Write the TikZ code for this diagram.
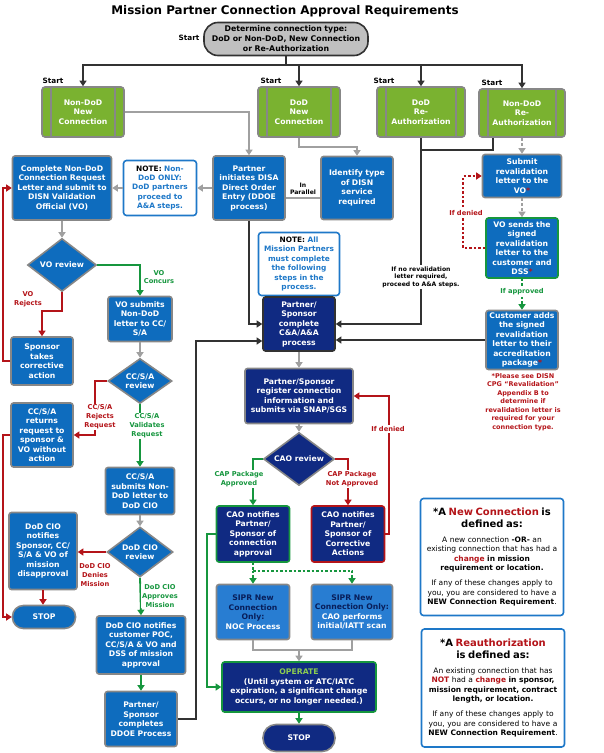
\documentclass[tikz,border=0pt]{standalone}
\usepackage{fontspec}
\setmainfont{DejaVu Sans}
\usetikzlibrary{arrows.meta,shapes.geometric,calc}
\definecolor{gfill}{RGB}{122,178,48}
\definecolor{bordgray}{RGB}{135,135,135}
\definecolor{bfill}{RGB}{14,108,190}
\definecolor{nfill}{RGB}{16,42,130}
\definecolor{ndraw}{RGB}{50,50,50}
\definecolor{sfill}{RGB}{40,125,210}
\definecolor{stext}{RGB}{8,30,90}
\definecolor{lred}{RGB}{180,20,25}
\definecolor{lgreen}{RGB}{22,150,62}
\definecolor{lgray}{RGB}{160,160,160}
\definecolor{ldark}{RGB}{50,50,50}
\definecolor{nblue}{RGB}{30,120,200}
\definecolor{opgreen}{RGB}{140,205,80}
\definecolor{ovalgray}{RGB}{192,192,192}
\newcommand\myfs[2]{\fontsize{#1}{#2}\selectfont}
\begin{document}
\begin{tikzpicture}[x=1pt,y=-1pt,
 arr/.style={-{Triangle[length=5.5pt,width=7pt]}},
 cgray/.style={draw=lgray,line width=2.2pt},
 cdark/.style={draw=ldark,line width=2.2pt},
 cred/.style={draw=lred,line width=1.8pt},
 cgreen/.style={draw=lgreen,line width=1.8pt},
 dots/.style={line width=1.8pt,dash pattern=on 2.5pt off 2pt},
 box/.style={draw=bordgray,line width=1.6pt,rounded corners=2.5pt,align=center,inner sep=0pt,text=white,font=\myfs{7.7}{9.5}\bfseries},
 sz/.style 2 args={minimum width=#1pt,text width=#1pt,minimum height=#2pt},
 dsz/.style 2 args={minimum width=#1pt,minimum height=#2pt},
 bbox/.style={box,fill=bfill},
 nbox/.style={box,fill=nfill,draw=ndraw},
 sbox/.style={box,fill=sfill},
 gbox/.style={box,fill=gfill,rounded corners=3pt,
   path picture={\draw[bordgray,line width=1.4pt]
     ([xshift=9pt]path picture bounding box.north west) -- ([xshift=9pt]path picture bounding box.south west)
     ([xshift=-9pt]path picture bounding box.north east) -- ([xshift=-9pt]path picture bounding box.south east);}},
 notebox/.style={box,fill=white,draw=nblue,rounded corners=3pt,text=nblue,font=\myfs{7.4}{9.4}\bfseries},
 defbox/.style={box,fill=white,draw=nblue,rounded corners=3pt,text=black,font=\myfs{7.5}{9.6}},
 diam/.style={diamond,draw=bordgray,line width=1.6pt,inner sep=0pt,aspect=1.4,align=center,text=white,font=\myfs{7.7}{9.5}\bfseries},
 bdiam/.style={diam,fill=bfill},
 ndiam/.style={diam,fill=nfill},
 oval/.style={rounded corners=11pt},
 startlab/.style={font=\myfs{7.3}{8}\bfseries,text=black},
 lab/.style={font=\myfs{6.7}{8.8}\bfseries,align=center,fill=white,inner sep=1pt},
 rlab/.style={lab,text=lred},
 glab/.style={lab,text=lgreen},
 tinylab/.style={font=\myfs{6.1}{7.6}\bfseries,align=center,inner sep=1pt,text=black}
]
\useasboundingbox (0,0) rectangle (604,753);

% title
\node[font=\myfs{11.9}{13}\bfseries] (title) at (285,11) {Mission Partner Connection Approval Requirements};

% start
\node[box,fill=ovalgray,draw=ldark,rounded corners=14pt,text=black,sz={164}{33},font=\myfs{7.8}{10}\bfseries] (start) at (286,39)
 {Determine connection type:\\DoD or Non-DoD, New Connection\\or Re-Authorization};
\node[startlab,anchor=east] (s0) at (203,38) {Start};

% green type boxes
\node[gbox,sz={82}{50}] (ndn) at (83,112) {Non-DoD\\New\\Connection};
\node[gbox,sz={82}{50}] (dn) at (299,112) {DoD\\New\\Connection};
\node[gbox,sz={88}{50}] (dra) at (421,112) {DoD\\Re-\\Authorization};
\node[gbox,sz={86}{48}] (ndra) at (522,113) {Non-DoD\\Re-\\Authorization};
\node[startlab] (s1) at (53,81) {Start};
\node[startlab] (s2) at (271,81) {Start};
\node[startlab] (s3) at (384,81) {Start};
\node[startlab] (s4) at (492,83) {Start};

% row 2
\node[bbox,sz={99}{64}] (cnd) at (62,188) {Complete Non-DoD\\Connection Request\\Letter and submit to\\DISN Validation\\Official (VO)};
\node[notebox,sz={73}{55}] (note1) at (160,188) {\textcolor{black}{NOTE:} Non-\\DoD ONLY:\\DoD partners\\proceed to\\A\&A steps.};
\node[bbox,sz={72}{64}] (pdd) at (249,188) {Partner\\initiates DISA\\Direct Order\\Entry (DDOE\\process)};
\node[bbox,sz={72}{63}] (idt) at (357,188) {Identify type\\of DISN\\service\\required};
\node[tinylab] (inpar) at (303,189) {In\\Parallel};

% middle column
\node[notebox,sz={81}{63}] (note2) at (299,264) {\textcolor{black}{NOTE:} All\\Mission Partners\\must complete\\the following\\steps in the\\process.};
\node[nbox,sz={72}{54}] (ca) at (299,324) {Partner/\\Sponsor\\complete\\C\&A/A\&A\\process};
\node[nbox,draw=bordgray,sz={108}{55}] (reg) at (299,396) {Partner/Sponsor\\register connection\\information and\\submits via SNAP/SGS};
\node[ndiam,dsz={71}{53}] (cao) at (299,459) {CAO review};
\node[nbox,draw=lgreen,sz={73}{56}] (apr) at (253,534) {CAO notifies\\Partner/\\Sponsor of\\connection\\approval};
\node[nbox,draw=lred,sz={73}{56}] (cor) at (348,534) {CAO notifies\\Partner/\\Sponsor of\\Corrective\\Actions};
\node[sbox,sz={73}{55}] (sipr1) at (253,612) {\textcolor{stext}{SIPR New\\Connection\\Only:}\\NOC Process};
\node[sbox,sz={81}{55}] (sipr2) at (352,612) {\textcolor{stext}{SIPR New\\Connection Only:}\\CAO performs\\initial/IATT scan};
\node[nbox,draw=lgreen,sz={154}{50}] (op) at (299,687) {\textcolor{opgreen}{OPERATE}\\(Until system or ATC/IATC\\expiration, a significant change\\occurs, or no longer needed.)};
\node[nbox,draw=bordgray,oval,rounded corners=13pt,sz={72}{27}] (stop2) at (299,738) {STOP};

% left column
\node[bdiam,dsz={69}{53}] (vor) at (62,265) {VO review};
\node[bbox,sz={64}{45}] (vos) at (140,319) {VO submits\\Non-DoD\\letter to CC/\\S/A};
\node[bbox,sz={62}{48}] (stc) at (42,361) {Sponsor\\takes\\corrective\\action};
\node[bdiam,dsz={64}{45}] (ccr) at (140,381) {CC/S/A\\review};
\node[bbox,sz={62}{64}] (ret) at (42,435) {CC/S/A\\returns\\request to\\sponsor \&\\VO without\\action};
\node[bbox,sz={69}{47}] (csd) at (140,491) {CC/S/A\\submits Non-\\DoD letter to\\DoD CIO};
\node[bdiam,dsz={66}{50}] (cior) at (140,552) {DoD CIO\\review};
\node[bbox,sz={68}{77}] (dis) at (43,551) {DoD CIO\\notifies\\Sponsor, CC/\\S/A \& VO of\\mission\\disapproval};
\node[bbox,oval,sz={63}{23}] (stop1) at (44,617) {STOP};
\node[bbox,sz={89}{58}] (app) at (141,645) {DoD CIO notifies\\customer POC,\\CC/S/A \& VO and\\DSS of mission\\approval};
\node[bbox,sz={72}{55}] (ddoe) at (141,719) {Partner/\\Sponsor\\completes\\DDOE Process};

% right column
\node[bbox,sz={79}{43}] (sub) at (522,176) {Submit\\revalidation\\letter to the\\VO\textcolor{lred}{*}};
\node[bbox,draw=lgreen,sz={72}{60}] (vos2) at (522,248) {VO sends the\\signed\\revalidation\\letter to the\\customer and\\DSS\textcolor{lred}{*}};
\node[bbox,sz={72}{59}] (cust) at (522,340) {Customer adds\\the signed\\revalidation\\letter to their\\accreditation\\package\textcolor{lred}{*}};
\node[font=\myfs{6.5}{8.5}\bfseries,text=lred,align=center] (rnote) at (523,402)
 {*Please see DISN\\CPG ``Revalidation''\\Appendix B to\\determine if\\revalidation letter is\\required for your\\connection type.};

% definition boxes
\node[defbox,sz={143}{117}] (def1) at (492,557)
 {{\myfs{10}{12}\bfseries *A \textcolor{lred}{New Connection} is\\defined as:\par}\vspace{5pt}
  A new connection \textbf{-OR-} an\\existing connection that has had a\\\textbf{\textcolor{lred}{change} in mission}\\\textbf{requirement or location.}\par\vspace{5pt}
  If any of these changes apply to\\you, you are considered to have a\\\textbf{NEW Connection Requirement}.};
\node[defbox,sz={143}{118}] (def2) at (493,688)
 {{\myfs{10}{12}\bfseries *A \textcolor{lred}{Reauthorization}\\is defined as:\par}\vspace{5pt}
  An existing connection that has\\\textbf{\textcolor{lred}{NOT}} had a \textbf{\textcolor{lred}{change} in sponsor,}\\\textbf{mission requirement, contract}\\\textbf{length, or location.}\par\vspace{5pt}
  If any of these changes apply to\\you, you are considered to have a\\\textbf{NEW Connection Requirement}.};

% ---- connectors ----
\coordinate (bar) at (286,65);
\draw[cdark] (start.south) -- (bar);
\draw[cdark,arr] (bar) -| (ndn.north);
\draw[cdark,arr] (bar) -| (dn.north);
\draw[cdark,arr] (bar) -| (dra.north);
\draw[cdark,arr] (bar) -| (ndra.north);

\draw[cgray,arr] (ndn.east) -| (pdd.north);
\draw[cgray,arr] (dn.south) -- ++(0,9) -| (idt.north);
\draw[cgray] (pdd.east |- 0,198) -- (idt.west |- 0,198);
\draw[cgray,arr] (note1.west) -- (cnd.east);
\draw[cgray,arr] (pdd.west) -- (note1.east);

\draw[cgray,arr] (cnd.south) -- (vor.north);
\draw[cgreen,arr] (vor.east) -| (vos.north);
\draw[cred,arr] (vor.south) -- ++(0,19) -| (stc.north);
\draw[cred,arr] (stc.west) -- ++(-7,0) |- (cnd.west);
\draw[cgray,arr] (vos.south) -- (ccr.north);
\draw[cred,arr] (ccr.west) -- ++(-12,0) |- (ret.east);
\draw[cgreen,arr] (ccr.south) -- (csd.north);
\draw[cred,arr] (ret.west) -- ++(-7,0) |- (stop1.west);
\draw[cgray,arr] (csd.south) -- (cior.north);
\draw[cred,arr] (cior.west) -- (cior.west -| dis.east);
\draw[cred,arr] (dis.south) -- (dis.south |- stop1.north);
\draw[cgreen,arr] (cior.south) -- (app.north);
\draw[cgreen,arr] (app.south) -- (ddoe.north);
\draw[cdark,arr] (ddoe.east) -- ++(18,0) |- (ca.west |- 0,341);
\draw[cdark,arr] (pdd.south) |- (ca.west);

\draw[cdark,arr] (dra.south) |- (ca.east);
\draw[cdark] ([xshift=-29pt]ndra.south) |- (dra.south |- 0,150);
\draw[cdark,arr] (cust.west) -- (ca.east |- cust.west);

\draw[cgray,line width=1.8pt,dash pattern=on 3pt off 2pt,arr] (ndra.south) -- (sub.north);
\draw[cgray,line width=1.8pt,dash pattern=on 3pt off 2pt,arr] (sub.south) -- (vos2.north);
\draw[cred,dots,arr] (vos2.west) -- ++(-22,0) |- (sub.west);
\draw[cgreen,dots,arr] (vos2.south) -- (cust.north);

\draw[cgray,arr] (ca.south) -- (reg.north);
\draw[cgray,arr] (reg.south) -- (cao.north);
\draw[cgreen,arr] (cao.west) -| (apr.north);
\draw[cred,arr] (cao.east) -| (cor.north);
\draw[cred,arr] (cor.east) -- ++(4,0) |- (reg.east);
\draw[cgreen,arr] (apr.west) -- ++(-9,0) |- (op.west);
\draw[cgreen,dots] (apr.south) -- ++(0,8) coordinate (sp);
\draw[cgreen,dots,arr] (sp) -- (sipr1.north);
\draw[cgreen,dots,arr] (sp) -| (sipr2.north);
\draw[cgray] (sipr1.south) -- ++(0,10) coordinate (sl) -| (sipr2.south);
\coordinate (sj) at (299,650);
\draw[cgray,arr] (sj) -- (op.north);
\draw[cgreen,arr] (op.south) -- (stop2.north);

% ---- labels ----
\node[glab] (l1) at (159,277) {VO\\Concurs};
\node[rlab] (l2) at (28,299) {VO\\Rejects};
\node[rlab] (l3) at (100,417) {CC/S/A\\Rejects\\Request};
\node[glab] (l4) at (147,426) {CC/S/A\\Validates\\Request};
\node[rlab] (l5) at (95,575) {DoD CIO\\Denies\\Mission};
\node[glab] (l6) at (160,596) {DoD CIO\\Approves\\Mission};
\node[tinylab,fill=white] (l7) at (421,277) {If no revalidation\\letter required,\\proceed to A\&A steps.};
\node[rlab] (l8) at (466,213) {If denied};
\node[glab] (l9) at (522,292) {If approved};
\node[glab] (l10) at (239,479) {CAP Package\\Approved};
\node[rlab] (l11) at (352,479) {CAP Package\\Not Approved};
\node[rlab] (l12) at (388,429) {If denied};
\end{tikzpicture}
\end{document}
